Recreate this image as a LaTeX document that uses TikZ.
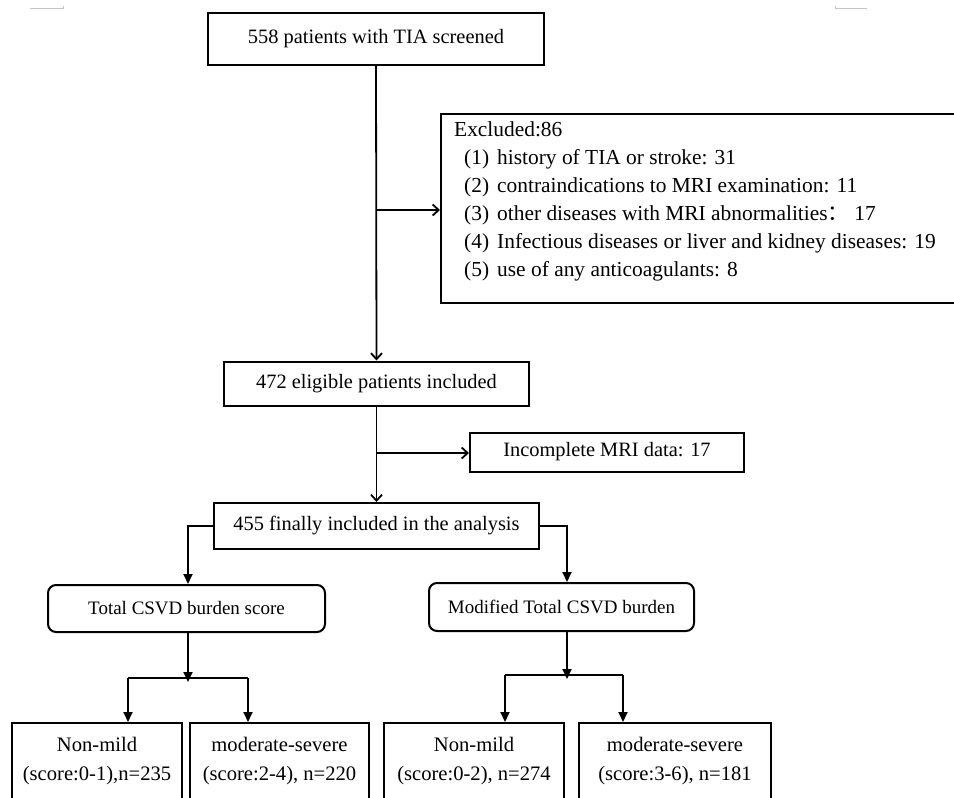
\documentclass[tikz,border=0pt]{standalone}
\usepackage{fontspec}
\setmainfont{Liberation Serif}
\newfontfamily\cjk{Noto Sans CJK SC}
\usetikzlibrary{arrows.meta}
\tikzset{
  bx/.style={draw, line width=2pt, inner sep=0pt, align=center, font=\fontsize{20.4}{24}\selectfont},
  rbx/.style={bx, rounded corners=8pt, font=\fontsize{19}{23}\selectfont},
  btm/.style={bx, font=\fontsize{20.6}{29}\selectfont},
  ln/.style={line width=1.8pt},
  arr/.style={ln, -{Triangle[length=10pt,width=9pt]}},
  barb/.style={ln, -{Straight Barb[length=6pt,width=11pt,line width=1.8pt]}},
  cornermark/.style={draw=gray!45, line width=1pt}
}
\begin{document}
\begin{tikzpicture}[x=1pt,y=-1pt]
\useasboundingbox (0,0) rectangle (954,798);
% corner marks
\draw[cornermark] (30,8) -- (63,8) -- (63,6);
\draw[cornermark] (835,6) -- (835,8) -- (867,8);
% main column
\node[bx, minimum width=336pt, minimum height=52pt] (b1) at (376,39) {558 patients with TIA screened};
\node[draw, line width=2pt, inner sep=0pt, minimum width=530pt, minimum height=189pt, anchor=north west] (ex) at (440,113) {};
\node[anchor=north west, inner sep=0pt, align=left, font=\fontsize{21.4}{28}\selectfont] (extext) at (454,121)
 {Excluded:86\\
  \hspace*{10pt}\makebox[33pt][l]{(1)}history of TIA or stroke: 31\\
  \hspace*{10pt}\makebox[33pt][l]{(2)}contraindications to MRI examination: 11\\
  \hspace*{10pt}\makebox[33pt][l]{(3)}other diseases with MRI abnormalities{\cjk ：}\ 17\\
  \hspace*{10pt}\makebox[33pt][l]{(4)}Infectious diseases or liver and kidney diseases: 19\\
  \hspace*{10pt}\makebox[33pt][l]{(5)}use of any anticoagulants: 8};
\node[bx, minimum width=305pt, minimum height=44pt] (b2) at (376.5,383.5) {472 eligible patients included};
\node[bx, minimum width=274pt, minimum height=39pt] (inc) at (607,452) {Incomplete MRI data: 17};
\node[bx, minimum width=325pt, minimum height=46pt] (b3) at (376.5,526) {455 finally included in the analysis};
\node[rbx, minimum width=277pt, minimum height=47pt] (r1) at (186.5,608.5) {Total CSVD burden score};
\node[rbx, minimum width=265pt, minimum height=48pt] (r2) at (561.5,607) {Modified Total CSVD burden};
\node[btm, minimum width=170pt, minimum height=77pt] (ba) at (97,761.5) {Non-mild\\(score:0-1),n=235};
\node[btm, minimum width=179pt, minimum height=77pt] (bb) at (279.5,761.5) {moderate-severe\\(score:2-4), n=220};
\node[btm, minimum width=180pt, minimum height=77pt] (bc) at (474,761.5) {Non-mild\\(score:0-2), n=274};
\node[btm, minimum width=192pt, minimum height=77pt] (bd) at (675,761.5) {moderate-severe\\(score:3-6), n=181};
% coordinates
\coordinate (j1) at (376,210);
\coordinate (j2) at (376,453);
\coordinate (lc) at (188,526);
\coordinate (rc) at (567,526);
\coordinate (ls) at (188,678);
\coordinate (lsa) at (128,678);
\coordinate (lsb) at (248,678);
\coordinate (rs) at (567,675);
\coordinate (rsa) at (505,675);
\coordinate (rsb) at (623,675);
% connectors
\draw[barb] (b1.south) -- (b2.north);
\draw[barb] (j1) -- (ex.west |- j1);
\draw[barb] (b2.south) -- (b3.north);
\draw[barb] (j2) -- (inc.west |- j2);
\draw[arr] (b3.west |- lc) -- (lc) -- (lc |- r1.north);
\draw[arr] (b3.east |- rc) -- (rc) -- (rc |- r2.north);
\draw[arr] (r1.south -| ls) -- ([yshift=-4pt]ls);
\draw[ln] (lsa) -- (lsb);
\draw[arr] (lsa) -- (lsa |- ba.north);
\draw[arr] (lsb) -- (lsb |- bb.north);
\draw[arr] (r2.south -| rs) -- ([yshift=-4pt]rs);
\draw[ln] (rsa) -- (rsb);
\draw[arr] (rsa) -- (rsa |- bc.north);
\draw[arr] (rsb) -- (rsb |- bd.north);
\end{tikzpicture}
\end{document}
